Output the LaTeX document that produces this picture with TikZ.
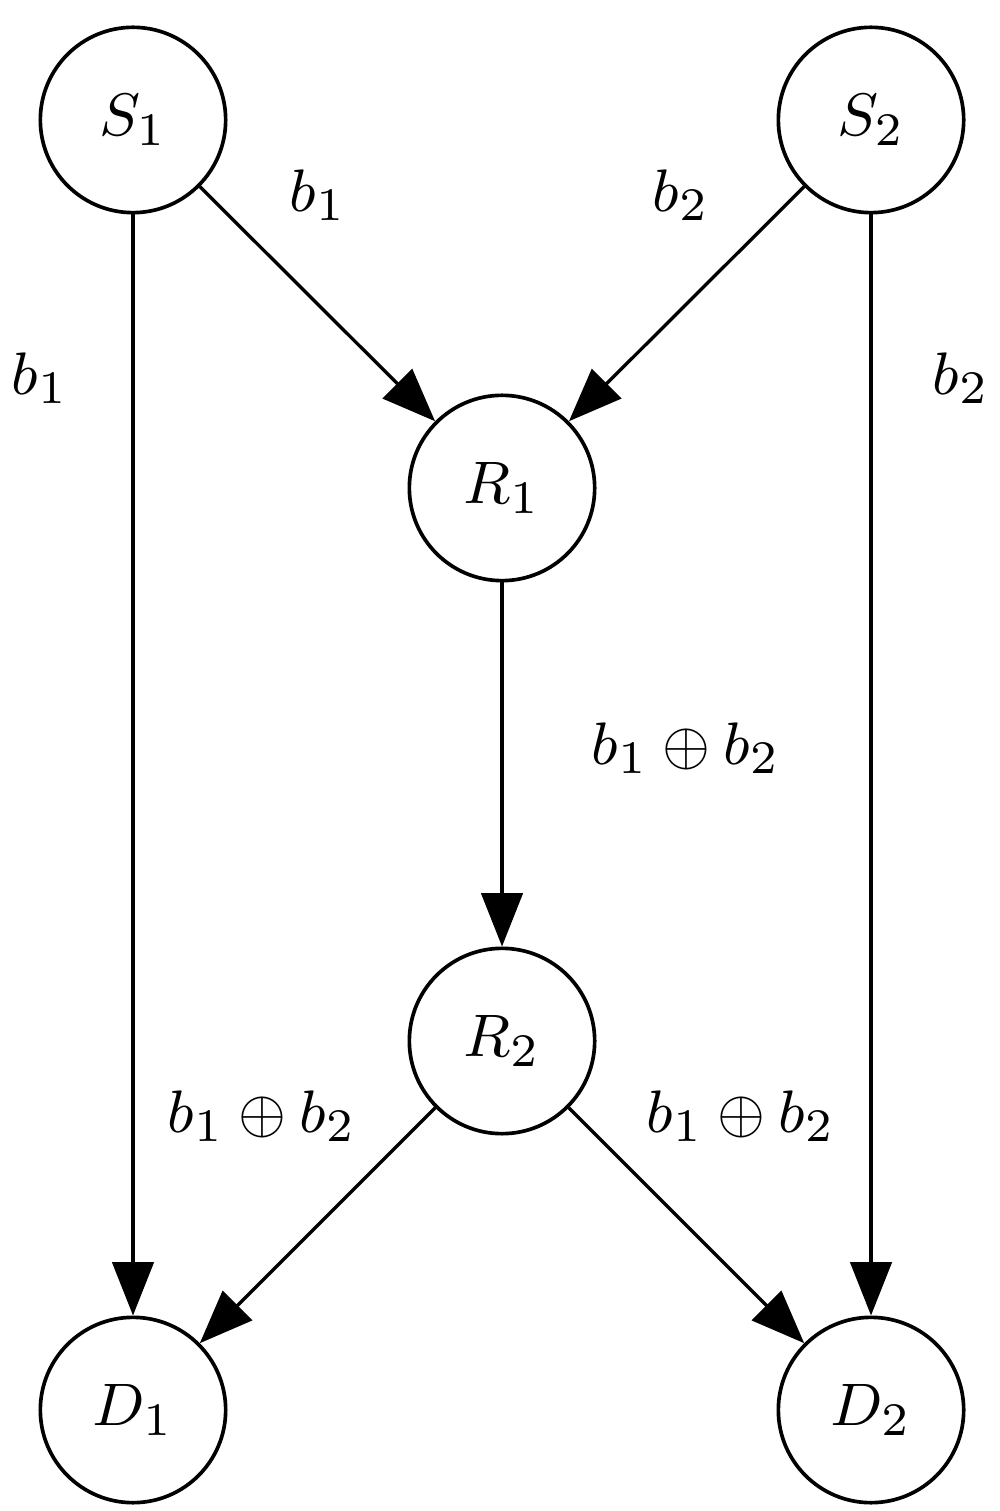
\documentclass[tikz,border=0pt]{standalone}
\usetikzlibrary{arrows.meta}
\begin{document}
\begin{tikzpicture}[x=0.15pt,y=-0.15pt,
  every node/.style={font=\fontsize{9.5}{11}\selectfont},
  vtx/.style={draw,circle,line width=0.55pt,minimum size=27.8pt,inner sep=0pt},
  edge/.style={line width=0.5pt,-{Triangle[length=8pt,width=6.2pt]}},
  lbl/.style={inner sep=0pt}]
\useasboundingbox (0,0) rectangle (1000,1511);
\node[vtx] (S1) at (133,120) {$S_1$};
\node[vtx] (S2) at (871,120) {$S_2$};
\node[vtx] (R1) at (502,488) {$R_1$};
\node[vtx] (R2) at (502,1041) {$R_2$};
\node[vtx] (D1) at (133,1410) {$D_1$};
\node[vtx] (D2) at (871,1410) {$D_2$};
\draw[edge] (S1) -- (R1);
\draw[edge] (S2) -- (R1);
\draw[edge] (S1) -- (D1);
\draw[edge] (S2) -- (D2);
\draw[edge] (R1) -- (R2);
\draw[edge] (R2) -- (D1);
\draw[edge] (R2) -- (D2);
\node[lbl] (l1) at (318,195) {$b_1$};
\node[lbl] (l2) at (681,195) {$b_2$};
\node[lbl] (l3) at (40,378) {$b_1$};
\node[lbl] (l4) at (961,378) {$b_2$};
\node[lbl] (l5) at (686,748) {$b_1\oplus b_2$};
\node[lbl] (l6) at (262,1116) {$b_1\oplus b_2$};
\node[lbl] (l7) at (741,1116) {$b_1\oplus b_2$};
\end{tikzpicture}
\end{document}
